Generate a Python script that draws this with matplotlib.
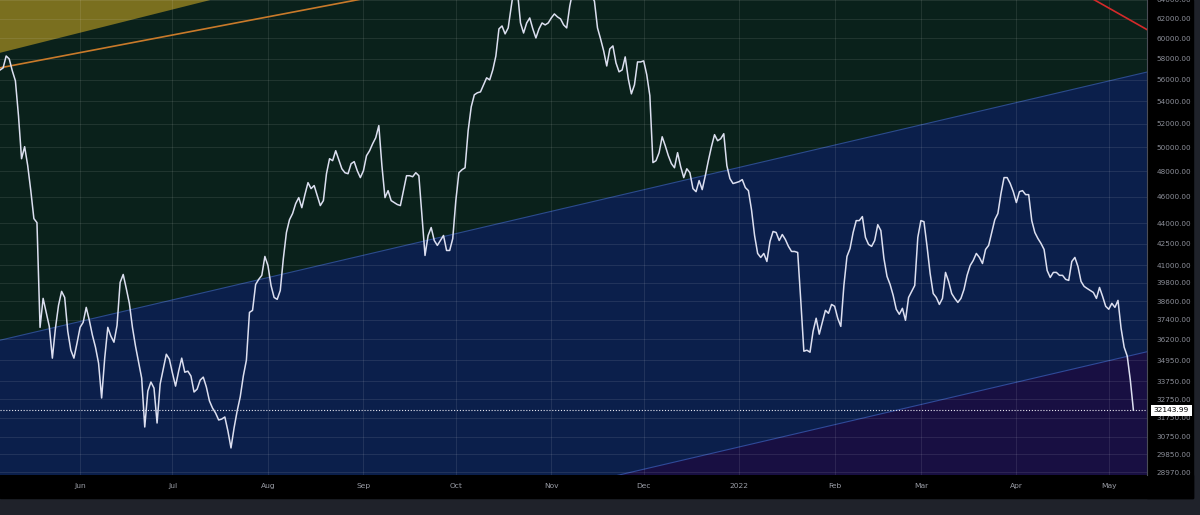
import numpy as np
import matplotlib
matplotlib.use("Agg")
import matplotlib.pyplot as plt
import matplotlib.dates as mdates
from matplotlib.patches import Rectangle

# daily price, starting 2021-05-06
start_date = "2021-05-06"
prices = [
    56900, 57100, 58260, 57970, 56820, 55880, 52700, 49030, 50030, 48460,
    46470, 44340, 44040, 36940, 38780, 37880, 37000, 35080, 36880, 38330,
    39240, 38840, 36700, 35550, 35080, 35970, 36940, 37250, 38200, 37380,
    36460, 35730, 34790, 32810, 35080, 36940, 36400, 36030, 37060, 39830,
    40370, 39430, 38460, 36940, 35790, 34840, 33920, 31250, 33190, 33700,
    33360, 31460, 33590, 34440, 35310, 35020, 34200, 33470, 34320, 35080,
    34260, 34320, 34040, 33140, 33300, 33810, 33980, 33420, 32650, 32260,
    31990, 31620, 31670, 31780, 31040, 30170, 31200, 32100, 32870, 34040,
    34960, 37880, 38010, 39700, 40040, 40310, 41610, 40980, 39630, 38840,
    38720, 39300, 41470, 43320, 44260, 44720, 45470, 45930, 45160, 46160,
    47100, 46630, 46870, 46080, 45320, 45700, 47810, 49030, 48870, 49690,
    48950, 48210, 47890, 47810, 48620, 48790, 48050, 47500, 48050, 49280,
    49690, 50280, 50790, 51830, 48460, 45930, 46470, 45700, 45550, 45400,
    45320, 46470, 47650, 47650, 47570, 47890, 47650, 44570, 41680, 43100,
    43680, 42740, 42390, 42740, 43100, 42030, 42030, 42880, 45700, 47890,
    48130, 48290, 51390, 53490, 54580, 54770, 54850, 55500, 56160, 55970,
    56910, 58260, 60970, 61270, 60460, 61070, 63360, 65520, 64970, 61580,
    60550, 61580, 62100, 60970, 60050, 60970, 61580, 61380, 61580, 62100,
    62520, 62210, 62000, 61380, 61070, 63360, 64970, 66620, 67180, 66960,
    66070, 65190, 64440, 63890, 61070, 59950, 58760, 57290, 58960, 59250,
    57590, 56730, 56910, 58170, 56060, 54670, 55500, 57680, 57680, 57780,
    56440, 54500, 48710, 48870, 49530, 50870, 50110, 49280, 48630, 48290,
    49530, 48380, 47500, 48210, 47890, 46630, 46390, 47260, 46550, 47650,
    48870, 50030, 51050, 50530, 50700, 51130, 48460, 47420, 47030, 47100,
    47180, 47340, 46710, 46470, 45010, 43100, 41820, 41540, 41820, 41260,
    42670, 43390, 43320, 42740, 43170, 42810, 42320, 41960, 41960, 41890,
    38650, 35490, 35550, 35430, 36700, 37510, 36520, 37250, 38010, 37820,
    38390, 38270, 37510, 37000, 39630, 41610, 42170, 43320, 44190, 44190,
    44490, 42960, 42460, 42320, 42740, 43890, 43460, 41470, 40240, 39700,
    38980, 38080, 37760, 38140, 37380, 38840, 39240, 39630, 42960, 44190,
    44110, 42320, 40440, 39100, 38840, 38390, 38780, 40510, 39900, 39100,
    38780, 38520, 38780, 39370, 40310, 40980, 41330, 41820, 41540, 41120,
    42100, 42390, 43320, 44260, 44720, 46240, 47500, 47500, 47030, 46390,
    45550, 46390, 46470, 46160, 46160, 44190, 43320, 42880, 42530, 42100,
    40640, 40170, 40510, 40510, 40310, 40310, 40040, 39970, 41260, 41540,
    40910, 39900, 39570, 39430, 39300, 39170, 38780, 39500, 38910, 38270,
    38080, 38460, 38200, 38650, 36880, 35730, 35200, 33810, 32143.99,
]
last_price = 32143.99

# price scale labels on the right
y_ticks = [64000, 62000, 60000, 58000, 56000, 54000, 52000, 50000, 48000, 46000,
           44000, 42500, 41000, 39800, 38600, 37400, 36200, 34950, 33750, 32750,
           31750, 30750, 29850, 28970]

# month labels
month_starts = ["2021-06-01", "2021-07-01", "2021-08-01", "2021-09-01", "2021-10-01",
                "2021-11-01", "2021-12-01", "2022-01-01", "2022-02-01", "2022-03-01",
                "2022-04-01", "2022-05-01"]
month_labels = ["Jun", "Jul", "Aug", "Sep", "Oct", "Nov", "Dec", "2022",
                "Feb", "Mar", "Apr", "May"]

# drawn trend lines: two anchors each (date, price)
yellow_edge = [("2021-05-06", 58570), ("2021-07-12", 63890)]
orange_line = [("2021-05-06", 57110), ("2021-08-28", 63890)]
blue_edge = [("2021-05-06", 36150), ("2022-05-13", 56680)]
purple_edge = [("2021-11-23", 28830), ("2022-05-13", 35440)]
red_line = [("2022-04-27", 63890), ("2022-05-13", 60970)]

x_range = ("2021-05-06", "2022-05-13 10:00")
y_range = (28830, 63890)


def log_line(anchors, xs):
    # straight line on a log price scale through two anchors
    (d0, p0), (d1, p1) = anchors
    x0 = mdates.date2num(np.datetime64(d0))
    x1 = mdates.date2num(np.datetime64(d1))
    k = (np.log(p1) - np.log(p0)) / (x1 - x0)
    return np.exp(np.log(p0) + k * (xs - x0))


dates = mdates.date2num(np.datetime64(start_date) + np.arange(len(prices)))
xlo = mdates.date2num(np.datetime64(x_range[0]))
xhi = mdates.date2num(np.datetime64(x_range[1]))
xs = np.array([xlo, xhi])

W, H = 1200, 515
fig = plt.figure(figsize=(12, 5.15), dpi=100, facecolor="#1f222a")

# black strips for the axis areas
fig.patches.append(Rectangle((0, (515 - 498) / H), 1193 / W, 23 / H,
                             transform=fig.transFigure, color="#000000", zorder=-2))
fig.patches.append(Rectangle((1147 / W, (515 - 498) / H), 46 / W, 498 / H,
                             transform=fig.transFigure, color="#000000", zorder=-2))

ax = fig.add_axes([0, (515 - 475) / H, 1147 / W, 475 / H])
ax.set_facecolor("#0a211b")
ax.set_yscale("log")
ax.set_xlim(xlo, xhi)
ax.set_ylim(*y_range)

# zones
ax.fill_between(xs, log_line(yellow_edge, xs), 1e6, color="#7a6f1f", lw=0, zorder=1)
ax.fill_between(xs, log_line(purple_edge, xs), log_line(blue_edge, xs),
                color="#0b1f4b", lw=0, zorder=1)
ax.fill_between(xs, 1000, log_line(purple_edge, xs), color="#180f42", lw=0, zorder=1)
ax.plot(xs, log_line(blue_edge, xs), color="#2b4b8c", lw=0.8, zorder=2)
ax.plot(xs, log_line(purple_edge, xs), color="#2f4a9a", lw=0.8, zorder=2)
ax.plot(xs, log_line(orange_line, xs), color="#c97a2a", lw=1.2, zorder=3)
ax.plot(xs, log_line(red_line, xs), color="#d42a2a", lw=1.2, zorder=3)

# grid
for v in y_ticks:
    ax.axhline(v, color="#ffffff", alpha=0.09, lw=0.8, zorder=2)
month_x = mdates.date2num(np.array(month_starts, dtype="datetime64[D]"))
for mx in month_x:
    ax.axvline(mx, color="#ffffff", alpha=0.09, lw=0.8, zorder=2)

# price line
ax.plot(dates, prices, color="#dcdff0", lw=1.1, zorder=5)
ax.axhline(last_price, color="#e8e8f0", lw=0.8, ls=(0, (1, 1.6)), zorder=4)

# axes text
ax.yaxis.tick_right()
ax.set_yticks(y_ticks)
ax.yaxis.set_minor_locator(matplotlib.ticker.NullLocator())
ax.set_yticklabels([f"{v:.2f}" for v in y_ticks])
ax.tick_params(axis="y", length=0, pad=7, labelsize=5.2, labelcolor="#8c8f99")
ax.set_xticks(month_x)
ax.set_xticklabels(month_labels)
ax.tick_params(axis="x", length=0, pad=6, labelsize=5.4, labelcolor="#9a9da6")
for s in ax.spines.values():
    s.set_visible(False)
ax.spines["right"].set_visible(True)
ax.spines["right"].set_color("#4a4d56")
ax.spines["right"].set_linewidth(0.8)

# last price tag
ax.annotate(f"{last_price:.2f}", xy=(1.0, last_price), xycoords=("axes fraction", "data"),
            xytext=(5, 0), textcoords="offset points", ha="left", va="center",
            fontsize=5.4, color="#000000", zorder=10, annotation_clip=False,
            bbox=dict(boxstyle="square,pad=0.35", fc="#ffffff", ec="none"))

plt.savefig("out.png", dpi=100, facecolor=fig.get_facecolor())
